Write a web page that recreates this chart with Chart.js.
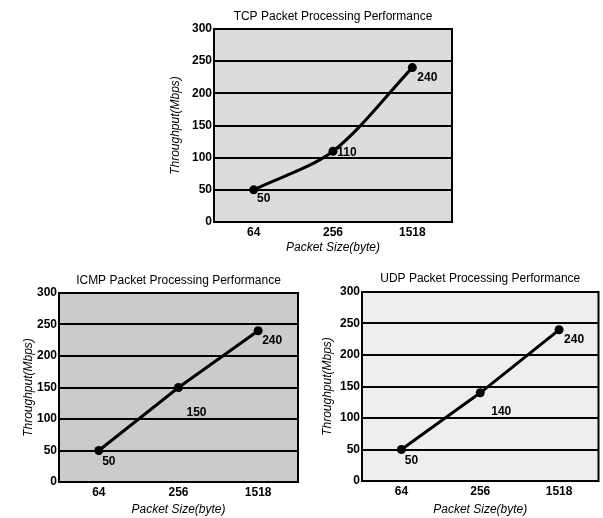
<!DOCTYPE html>
<html>
<head>
<meta charset="utf-8">
<script src="https://cdn.jsdelivr.net/npm/chart.js@4"></script>
<style>
  html, body { margin: 0; padding: 0; background: #fff; }
  body { width: 603px; height: 518px; position: relative; overflow: hidden; }
  canvas { position: absolute; }
</style>
</head>
<body>
<canvas id="tcpChart" width="300" height="260" style="left:160px;top:0px"></canvas>
<canvas id="icmpChart" width="305" height="256" style="left:0px;top:262px"></canvas>
<canvas id="udpChart" width="300" height="256" style="left:303px;top:262px"></canvas>
<script>
  // data
  const packetSizes = ['64', '256', '1518'];
  const tcpThroughput = [50, 110, 240];
  const icmpThroughput = [50, 150, 240];
  const udpThroughput = [50, 140, 240];
  const yTickValues = [0, 50, 100, 150, 200, 250, 300];

  const FONT = '"Liberation Sans", Arial, sans-serif';

  // fill + frame of the plot area, and the value labels next to points
  const plotBox = {
    id: 'plotBox',
    beforeDraw(chart, args, opts) {
      const { ctx, chartArea: a } = chart;
      ctx.save();
      ctx.fillStyle = opts.bg;
      ctx.fillRect(a.left, a.top, a.right - a.left, a.bottom - a.top);
      ctx.restore();
    },
    beforeDatasetsDraw(chart) {
      const { ctx, chartArea: a } = chart;
      ctx.save();
      ctx.strokeStyle = '#000';
      ctx.lineWidth = 2;
      ctx.strokeRect(a.left, a.top, a.right - a.left, a.bottom - a.top);
      ctx.restore();
    },
    afterDatasetsDraw(chart, args, opts) {
      const { ctx } = chart;
      const meta = chart.getDatasetMeta(0);
      const vals = chart.data.datasets[0].data;
      ctx.save();
      ctx.font = 'bold 12px ' + FONT;
      ctx.fillStyle = '#000';
      ctx.textAlign = 'center';
      ctx.textBaseline = 'middle';
      meta.data.forEach((pt, i) => {
        const off = opts.offsets[i];
        ctx.fillText(String(vals[i]), pt.x + off[0], pt.y + off[1]);
      });
      ctx.restore();
    }
  };

  function makeChart(id, title, values, o) {
    const ctx = document.getElementById(id).getContext('2d');
    return new Chart(ctx, {
      type: 'line',
      data: {
        labels: packetSizes,
        datasets: [{
          data: values,
          borderColor: '#000',
          backgroundColor: '#000',
          borderWidth: 3,
          pointRadius: 4.5,
          pointBackgroundColor: '#000',
          pointBorderWidth: 0,
          tension: o.tension,
          fill: false
        }]
      },
      options: {
        responsive: false,
        animation: false,
        devicePixelRatio: 1,
        layout: { padding: { left: 0, right: o.padRight, top: 0, bottom: 0 } },
        plugins: {
          legend: { display: false },
          tooltip: { enabled: false },
          title: {
            display: true,
            text: title,
            fullSize: false,
            color: '#000',
            font: { family: FONT, size: 12, weight: 'normal' },
            padding: { top: o.titlePad[0], bottom: o.titlePad[1] }
          },
          plotBox: { bg: o.bg, offsets: o.offsets }
        },
        scales: {
          x: {
            offset: true,
            grid: { display: false, drawTicks: false },
            border: { display: true, color: '#000', width: 2 },
            ticks: { color: '#000', padding: 3, maxRotation: 0, font: { family: FONT, size: 12, weight: 'bold' } },
            title: {
              display: true,
              text: 'Packet Size(byte)',
              color: '#000',
              font: { family: FONT, size: 12, style: 'italic' },
              padding: { top: 0, bottom: o.xTitlePad }
            },
            afterFit(scale) { scale.height = o.xAxisHeight; }
          },
          y: {
            min: 0,
            max: 300,
            afterBuildTicks(scale) { scale.ticks = yTickValues.map(v => ({ value: v })); },
            grid: { color: '#000', lineWidth: 2, drawTicks: false },
            border: { display: true, color: '#000', width: 2 },
            ticks: { color: '#000', padding: 2, font: { family: FONT, size: 12, weight: 'bold' } },
            title: {
              display: true,
              text: 'Throughput(Mbps)',
              color: '#000',
              font: { family: FONT, size: 12, style: 'italic' },
              padding: { top: o.yTitlePad, bottom: 0 }
            },
            afterFit(scale) { scale.width = o.yAxisWidth; }
          }
        }
      },
      plugins: [plotBox]
    });
  }

  makeChart('tcpChart', 'TCP Packet Processing Performance', tcpThroughput, {
    bg: '#dcdcdc', tension: 0.3, padRight: 8, yAxisWidth: 54, xAxisHeight: 38,
    titlePad: [9, 5.6], yTitlePad: 8, xTitlePad: 4.8,
    offsets: [[10, 9], [14, 1], [15, 10]]
  });

  makeChart('icmpChart', 'ICMP Packet Processing Performance', icmpThroughput, {
    bg: '#cbcbcb', tension: 0, padRight: 7, yAxisWidth: 59, xAxisHeight: 36,
    titlePad: [11.8, 4.8], yTitlePad: 21, xTitlePad: 1,
    offsets: [[10, 11], [18, 25], [14, 10]]
  });

  makeChart('udpChart', 'UDP Packet Processing Performance', udpThroughput, {
    bg: '#eeeeee', tension: 0, padRight: 4, yAxisWidth: 59, xAxisHeight: 37,
    titlePad: [9.8, 5.8], yTitlePad: 17, xTitlePad: 1,
    offsets: [[10, 11], [21, 19], [15, 10]]
  });
</script>
</body>
</html>
